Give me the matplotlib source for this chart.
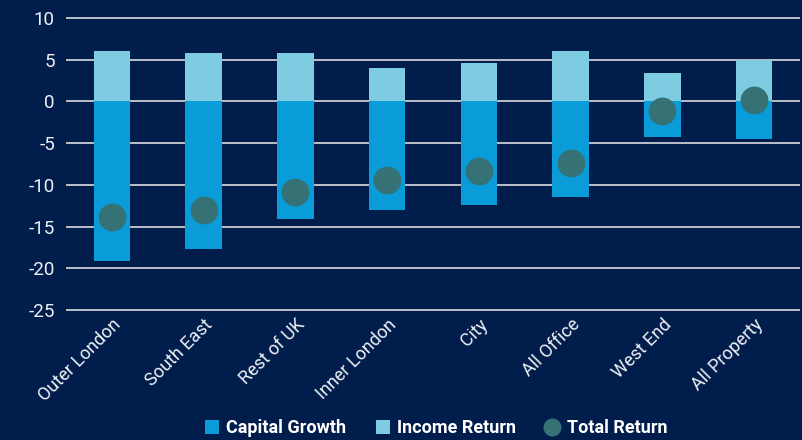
import matplotlib.pyplot as plt
from matplotlib.lines import Line2D
from matplotlib.patches import Patch

# values (%)
categories = ['Outer London', 'South East', 'Rest of UK', 'Inner London',
              'City', 'All Office', 'West End', 'All Property']
capital_growth = [-19.1, -17.7, -14.1, -13.0, -12.4, -11.5, -4.3, -4.5]
income_return = [6.1, 5.8, 5.8, 4.0, 4.6, 6.1, 3.4, 5.0]
total_return = [-13.9, -13.0, -10.9, -9.4, -8.4, -7.4, -1.1, 0.2]
y_ticks = [10, 5, 0, -5, -10, -15, -20, -25]

bg = '#011d4b'
c_capital = '#099cd9'
c_income = '#7dcce1'
c_total = '#357175'
text_col = '#eef1f6'

plt.rcParams['font.family'] = ['Roboto', 'DejaVu Sans']
plt.rcParams['axes.unicode_minus'] = False

fig = plt.figure(figsize=(8.03, 4.40), dpi=100, facecolor=bg)
ax = fig.add_axes([0.0822, 0.286, 0.914, 0.6826], facecolor=bg)

x = range(len(categories))
ax.bar(x, capital_growth, width=0.4, color=c_capital, zorder=3)
ax.bar(x, income_return, width=0.4, color=c_income, zorder=3)
ax.plot(x, total_return, 'o', color=c_total, markersize=19, zorder=4)

ax.set_xlim(-0.5, len(categories) - 0.5)
ax.set_ylim(-25.5, 10.5)
ax.set_yticks(y_ticks)
ax.yaxis.grid(True, color='#c9ccd3', linewidth=1.3, zorder=1)
ax.set_axisbelow(True)
for s in ax.spines.values():
    s.set_visible(False)

ax.tick_params(axis='y', length=0, pad=8, labelsize=13.5, labelcolor=text_col)
ax.tick_params(axis='x', length=0, pad=1, labelsize=13, labelcolor=text_col)
ax.set_xticks(list(x))
ax.set_xticklabels(categories, rotation=45, ha='right', rotation_mode='anchor')

handles = [
    Patch(facecolor=c_capital, label='Capital Growth'),
    Patch(facecolor=c_income, label='Income Return'),
    Line2D([], [], marker='o', linestyle='', color=c_total, markersize=12,
           label='Total Return'),
]
leg = fig.legend(handles=handles, loc='center', bbox_to_anchor=(0.543, 0.027),
                 ncol=3, frameon=False, handlelength=0.8, handleheight=0.8,
                 handletextpad=0.4, columnspacing=1.6,
                 prop={'weight': 'bold', 'size': 13})
for t in leg.get_texts():
    t.set_color('white')

fig.savefig('out.png', dpi=100, facecolor=bg)
